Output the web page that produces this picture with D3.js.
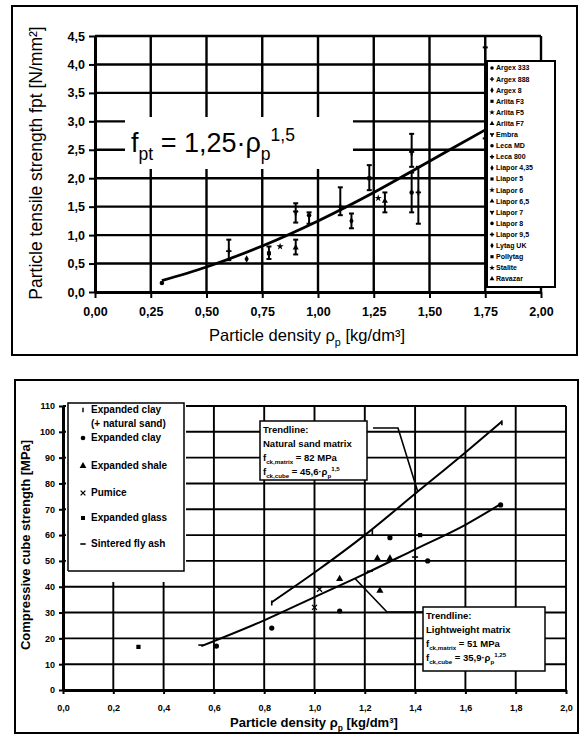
<!DOCTYPE html>
<html>
<head>
<meta charset="utf-8">
<script src="https://cdn.jsdelivr.net/npm/d3@7"></script>
<style>
  body { margin: 0; background: #fff; }
  text { font-family: "Liberation Sans", Arial, sans-serif; fill: #000; }
</style>
</head>
<body>
<div id="chart"></div>
<script>
// ---- top chart: particle tensile strength ----
var topXTicks = [0, 0.25, 0.5, 0.75, 1.0, 1.25, 1.5, 1.75, 2.0];
var topYTicks = [0, 0.5, 1.0, 1.5, 2.0, 2.5, 3.0, 3.5, 4.0, 4.5];

var tensileDensity = [0.30, 0.60, 0.68, 0.78, 0.83, 0.90, 0.90, 0.96, 1.10, 1.15, 1.23, 1.27, 1.30, 1.42, 1.42, 1.45, 1.75];
var tensileValue   = [0.16, 0.72, 0.58, 0.68, 0.80, 0.78, 1.40, 1.35, 1.50, 1.25, 2.00, 1.65, 1.60, 2.45, 1.75, 1.75, 3.50];
var tensileLow     = [null, 0.56, null, 0.58, null, 0.66, 1.22, 1.20, 1.35, 1.12, 1.79, null, 1.40, 2.20, 1.40, 1.20, 2.70];
var tensileHigh    = [null, 0.92, null, 0.80, null, 0.92, 1.56, 1.40, 1.84, 1.38, 2.23, null, 1.75, 2.78, 2.10, 2.20, 4.30];

var tensileTrendX = [0.30, 0.50, 0.75, 1.00, 1.25, 1.50, 1.75];
var tensileTrendY = [0.20, 0.44, 0.81, 1.25, 1.75, 2.30, 2.85];

var aggregateNames = ["Argex 333", "Argex 888", "Argex 8", "Arlita F3", "Arlita F5", "Arlita F7",
  "Embra", "Leca MD", "Leca 800", "Liapor 4,35", "Liapor 5", "Liapor 6", "Liapor 6,5", "Liapor 7",
  "Liapor 8", "Liapor 9,5", "Lytag UK", "Pollytag", "Stalite", "Ravazar"];

// ---- bottom chart: compressive cube strength ----
var cubeXTicks = [0, 0.2, 0.4, 0.6, 0.8, 1.0, 1.2, 1.4, 1.6, 1.8, 2.0];
var cubeYTicks = [0, 10, 20, 30, 40, 50, 60, 70, 80, 90, 100, 110];

var cubeCategories = [["Expanded clay", "(+ natural sand)"], ["Expanded clay"], ["Expanded shale"],
  ["Pumice"], ["Expanded glass"], ["Sintered fly ash"]];

var cubeDensity  = [0.83, 1.23, 1.745, 0.83, 1.10, 1.30, 1.45, 1.74, 0.61, 1.10, 1.25, 1.30, 1.26, 1.00, 1.02, 1.42, 0.30, 0.55, 1.22, 1.40];
var cubeStrength = [33.7, 61.0, 103.5, 24.0, 30.6, 59.0, 50.0, 71.7, 17.0, 43.0, 51.0, 51.0, 38.5, 32.0, 39.0, 60.0, 16.7, 17.4, 46.0, 51.5];
var cubeCategory = [0, 0, 0, 1, 1, 1, 1, 1, 1, 2, 2, 2, 2, 3, 3, 4, 4, 5, 5, 5];

var sandTrendX = [0.83, 1.00, 1.20, 1.40, 1.60, 1.745];
var sandTrendY = [34.0, 45.5, 60.0, 76.0, 92.0, 104.0];
var lwTrendX = [0.55, 0.80, 1.00, 1.20, 1.40, 1.60, 1.74];
var lwTrendY = [17.0, 27.0, 36.0, 45.0, 54.5, 64.0, 72.0];

var W = 580, H = 735;
var svg = d3.select("#chart").append("svg").attr("width", W).attr("height", H);

function comma(fmt) { return function (d) { return d3.format(fmt)(d).replace(".", ","); }; }

// text with sub/superscripts: parts = [[text, "sub"|"sup"|null], ...]
function richText(g, x, y, parts, size) {
  var t = g.append("text").attr("x", x).attr("y", y).style("font-size", size + "px");
  var shift = 0;
  parts.forEach(function (p) {
    var target = p[1] === "sub" ? size * 0.3 : p[1] === "sup" ? -size * 0.4 : 0;
    t.append("tspan").attr("dy", target - shift)
      .style("font-size", (p[1] ? size * 0.65 : size) + "px").text(p[0]);
    shift = target;
  });
  return t;
}

// ================= TOP =================
var gT = svg.append("g");
gT.append("rect").attr("x", 12).attr("y", 6).attr("width", 565).attr("height", 349)
  .attr("fill", "none").attr("stroke", "#000").attr("stroke-width", 2);

var tx = d3.scaleLinear().domain([0, 2]).range([95, 541]);
var ty = d3.scaleLinear().domain([0, 4.5]).range([292, 36]);

gT.append("g").selectAll("line").data(topYTicks.filter(function (d) { return d > 0; })).join("line")
  .attr("x1", tx(0)).attr("x2", tx(2)).attr("y1", ty).attr("y2", ty)
  .attr("stroke", "#000").attr("stroke-width", 2.4);
gT.append("g").selectAll("line").data(topXTicks.filter(function (d) { return d > 0; })).join("line")
  .attr("x1", tx).attr("x2", tx).attr("y1", ty(0)).attr("y2", ty(4.5))
  .attr("stroke", "#000").attr("stroke-width", 2.4);

// white panel behind the equation
gT.append("rect").attr("x", 125).attr("y", 117).attr("width", 228).attr("height", 52).attr("fill", "#fff");
richText(gT, 131, 152, [["f", null], ["pt", "sub"], [" = 1,25·ρ", null], ["p", "sub"], ["1,5", "sup"]], 27);

// trend curve
var lineT = d3.line().x(function (d) { return tx(d[0]); }).y(function (d) { return ty(d[1]); }).curve(d3.curveMonotoneX);
gT.append("path").datum(d3.zip(tensileTrendX, tensileTrendY)).attr("d", lineT)
  .attr("fill", "none").attr("stroke", "#000").attr("stroke-width", 2.8);

// error bars and points
var pts = tensileDensity.map(function (d, i) { return { x: d, y: tensileValue[i], lo: tensileLow[i], hi: tensileHigh[i] }; });
var eb = gT.append("g").attr("stroke", "#000").attr("stroke-width", 2);
pts.filter(function (p) { return p.lo !== null; }).forEach(function (p) {
  var X = tx(p.x);
  eb.append("line").attr("x1", X).attr("x2", X).attr("y1", ty(p.lo)).attr("y2", ty(p.hi));
  eb.append("line").attr("x1", X - 2.5).attr("x2", X + 2.5).attr("y1", ty(p.lo)).attr("y2", ty(p.lo));
  eb.append("line").attr("x1", X - 2.5).attr("x2", X + 2.5).attr("y1", ty(p.hi)).attr("y2", ty(p.hi));
});
gT.append("g").selectAll("path").data(pts).join("path")
  .attr("transform", function (p) { return "translate(" + tx(p.x) + "," + ty(p.y) + ")"; })
  .attr("d", function (p, i) { return d3.symbol().type(d3.symbolsFill[i % 7]).size(16)(); })
  .attr("fill", "#000");

// axes
var yAxT = gT.append("g").attr("transform", "translate(" + tx(0) + ",0)")
  .call(d3.axisLeft(ty).tickValues(topYTicks).tickSize(6).tickSizeOuter(0).tickPadding(4).tickFormat(comma(".1f")));
var xAxT = gT.append("g").attr("transform", "translate(0," + ty(0) + ")")
  .call(d3.axisBottom(tx).tickValues(topXTicks).tickSize(6).tickSizeOuter(0).tickPadding(9).tickFormat(comma(".2f")));
[yAxT, xAxT].forEach(function (a) {
  a.select(".domain").attr("stroke-width", 3);
  a.selectAll(".tick line").attr("stroke-width", 2);
  a.selectAll("text").style("font-size", "12.5px").style("font-weight", "bold").attr("fill", "#000");
});

// legend
gT.append("rect").attr("x", 487).attr("y", 61).attr("width", 68).attr("height", 226)
  .attr("fill", "#fff").attr("stroke", "#000").attr("stroke-width", 2);
var lgT = gT.append("g").selectAll("g").data(aggregateNames).join("g")
  .attr("transform", function (d, i) { return "translate(492," + (68 + i * 11.1) + ")"; });
lgT.append("path").attr("d", function (d, i) { return d3.symbol().type(d3.symbolsFill[i % 7]).size(10)(); }).attr("fill", "#000");
lgT.append("text").attr("x", 4).attr("dy", "0.35em").style("font-size", "7px").style("font-weight", "bold").text(function (d) { return d; });

// axis titles
gT.append("text").attr("transform", "translate(42,163) rotate(-90)").attr("text-anchor", "middle")
  .style("font-size", "17.5px").text("Particle tensile strength fpt [N/mm²]");
richText(gT, 209, 341, [["Particle density ρ", null], ["p", "sub"], [" [kg/dm³]", null]], 16.5);

// ================= BOTTOM =================
var gB = svg.append("g");
gB.append("rect").attr("x", 15).attr("y", 380).attr("width", 563).attr("height", 353)
  .attr("fill", "none").attr("stroke", "#000").attr("stroke-width", 2);

var bx = d3.scaleLinear().domain([0, 2]).range([63, 566]);
var by = d3.scaleLinear().domain([0, 110]).range([690, 406]);

gB.append("g").selectAll("line").data(cubeYTicks.filter(function (d) { return d > 0; })).join("line")
  .attr("x1", bx(0)).attr("x2", bx(2)).attr("y1", by).attr("y2", by)
  .attr("stroke", "#000").attr("stroke-width", 1.9);
gB.append("g").selectAll("line").data(cubeXTicks.filter(function (d) { return d > 0; })).join("line")
  .attr("x1", bx).attr("x2", bx).attr("y1", by(0)).attr("y2", by(110))
  .attr("stroke", "#000").attr("stroke-width", 1.9);

// legend box (covers grid)
gB.append("rect").attr("x", 66).attr("y", 403).attr("width", 120).attr("height", 179).attr("fill", "#fff");
gB.append("path").attr("d", "M68,571 V403 H184 V571 H68").attr("fill", "none").attr("stroke", "#000").attr("stroke-width", 1.5);

function marker(g, cat, X, Y, s) {
  s = s || 1;
  if (cat === 0) g.append("rect").attr("x", X - 0.8 * s).attr("y", Y - 2.5 * s).attr("width", 1.6 * s).attr("height", 5 * s).attr("fill", "#000");
  else if (cat === 1) g.append("circle").attr("cx", X).attr("cy", Y).attr("r", 2.6 * s).attr("fill", "#000");
  else if (cat === 2) g.append("path").attr("transform", "translate(" + X + "," + Y + ")").attr("d", d3.symbol().type(d3.symbolTriangle).size(22 * s)()).attr("fill", "#000");
  else if (cat === 3) g.append("path").attr("transform", "translate(" + X + "," + Y + ")").attr("d", d3.symbol().type(d3.symbolTimes).size(18 * s)()).attr("stroke", "#000").attr("stroke-width", 1.3).attr("fill", "none");
  else if (cat === 4) g.append("path").attr("transform", "translate(" + X + "," + Y + ")").attr("d", d3.symbol().type(d3.symbolSquare).size(18 * s)()).attr("fill", "#000");
  else g.append("line").attr("x1", X - 3 * s).attr("x2", X + 3 * s).attr("y1", Y).attr("y2", Y).attr("stroke", "#000").attr("stroke-width", 1.6);
}

var legYs = [413, 441, 469, 496, 521, 547];
cubeCategories.forEach(function (lines, i) {
  marker(gB, i, 83, legYs[i] - 3, 0.9);
  lines.forEach(function (l, j) {
    gB.append("text").attr("x", 91).attr("y", legYs[i] + j * 14).style("font-size", "10px").style("font-weight", "bold").text(l);
  });
});

// trendlines
var lineB = d3.line().x(function (d) { return bx(d[0]); }).y(function (d) { return by(d[1]); }).curve(d3.curveMonotoneX);
gB.append("path").datum(d3.zip(sandTrendX, sandTrendY)).attr("d", lineB).attr("fill", "none").attr("stroke", "#000").attr("stroke-width", 2);
gB.append("path").datum(d3.zip(lwTrendX, lwTrendY)).attr("d", lineB).attr("fill", "none").attr("stroke", "#000").attr("stroke-width", 2);

var gm = gB.append("g");
cubeDensity.forEach(function (d, i) { marker(gm, cubeCategory[i], bx(d), by(cubeStrength[i])); });

// annotation boxes and pointers
var ann = gB.append("g").attr("stroke", "#000").attr("stroke-width", 1.6).attr("fill", "none");
ann.append("path").attr("d", "M373,428 H398 L" + bx(1.41) + "," + by(77));
ann.append("path").attr("d", "M423,612 H387 L" + bx(1.16) + "," + by(43.3));

function annotation(x, y, w, h, lines) {
  gB.append("rect").attr("x", x).attr("y", y).attr("width", w).attr("height", h)
    .attr("fill", "#fff").attr("stroke", "#000").attr("stroke-width", 1.5);
  var ga = gB.append("g").style("font-weight", "bold");
  lines.forEach(function (parts, i) { richText(ga, x + 3, y + 12 + i * 14, parts, 9.5); });
}
annotation(260, 421, 107, 59, [
  [["Trendline:", null]], [["Natural sand matrix", null]],
  [["f", null], ["ck,matrix", "sub"], [" = 82 MPa", null]],
  [["f", null], ["ck,cube", "sub"], [" = 45,6·ρ", null], ["p", "sub"], ["1,5", "sup"]]]);
annotation(423, 607, 122, 64, [
  [["Trendline:", null]], [["Lightweight matrix", null]],
  [["f", null], ["ck,matrix", "sub"], [" = 51 MPa", null]],
  [["f", null], ["ck,cube", "sub"], [" = 35,9·ρ", null], ["p", "sub"], ["1,25", "sup"]]]);

// axes
var yAxB = gB.append("g").attr("transform", "translate(" + bx(0) + ",0)")
  .call(d3.axisLeft(by).tickValues(cubeYTicks).tickSize(4).tickSizeOuter(0).tickPadding(4));
var xAxB = gB.append("g").attr("transform", "translate(0," + by(0) + ")")
  .call(d3.axisBottom(bx).tickValues(cubeXTicks).tickSize(4).tickSizeOuter(0).tickPadding(11).tickFormat(comma(".1f")));
[yAxB, xAxB].forEach(function (a) {
  a.select(".domain").attr("stroke-width", 3);
  a.selectAll(".tick line").attr("stroke-width", 2);
  a.selectAll("text").style("font-size", "9px").style("font-weight", "bold").attr("fill", "#000");
});

gB.append("text").attr("transform", "translate(30,545) rotate(-90)").attr("text-anchor", "middle")
  .style("font-size", "13px").style("font-weight", "bold").text("Compressive cube strength  [MPa]");
richText(gB.append("g").style("font-weight", "bold"), 230, 727, [["Particle density ρ", null], ["p", "sub"], [" [kg/dm³]", null]], 13);
</script>
</body>
</html>
